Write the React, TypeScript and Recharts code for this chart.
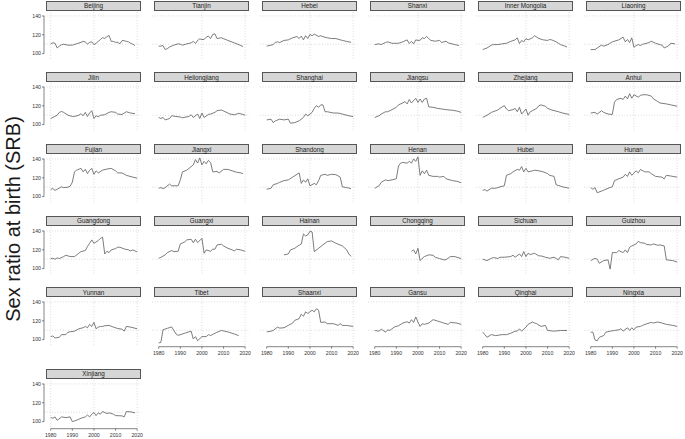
import { LineChart, Line, XAxis, YAxis, CartesianGrid, ReferenceLine } from 'recharts';

const provinces = [
  'Beijing', 'Tianjin', 'Hebei', 'Shanxi', 'Inner Mongolia', 'Liaoning',
  'Jilin', 'Heilongjiang', 'Shanghai', 'Jiangsu', 'Zhejiang', 'Anhui',
  'Fujian', 'Jiangxi', 'Shandong', 'Henan', 'Hubei', 'Hunan',
  'Guangdong', 'Guangxi', 'Hainan', 'Chongqing', 'Sichuan', 'Guizhou',
  'Yunnan', 'Tibet', 'Shaanxi', 'Gansu', 'Qinghai', 'Ningxia',
  'Xinjiang',
];

const yearTicks = [1980, 1990, 2000, 2010, 2020];
const srbTicks = [100, 110, 120, 130, 140];
const gridYears = [1980, 1985, 1990, 1995, 2000, 2005, 2010, 2015, 2020];
const gridSrb = [100, 110, 120, 130, 140];

// [year, SRB]
const beijing = [[1980,110.4],[1981,111.5],[1982,111],[1983,106],[1984,108],[1985,109.5],[1986,110],[1988,109],[1990,109],[1992,110.5],[1994,112],[1995,113],[1996,112.5],[1997,110],[1998,112],[1999,112.5],[2000,109.6],[2001,111],[2002,113],[2003,115],[2004,117],[2005,116],[2006,118],[2007,119.2],[2008,113],[2009,113],[2010,112],[2011,112],[2012,110.5],[2013,113.8],[2014,113.8],[2015,113],[2016,112.5],[2017,111],[2018,110],[2019,108.6]];
const tianjin = [[1980,107.9],[1981,108],[1982,108.6],[1983,104.3],[1984,105.3],[1985,107],[1986,108],[1987,109],[1989,110.4],[1990,110],[1991,109],[1993,110.4],[1995,111.4],[1996,113],[1997,110.7],[1998,114],[1999,115.7],[2000,115],[2001,115],[2002,117.5],[2003,118.6],[2004,116],[2005,120.4],[2006,121],[2007,116],[2008,116.5],[2009,116.8],[2012,114],[2015,111.4],[2018,108.6],[2019,107.5]];
const hebei = [[1980,108],[1981,108.5],[1982,109],[1983,109.6],[1984,112],[1985,112.5],[1986,111.8],[1988,114],[1990,114.6],[1992,116.8],[1994,118.2],[1995,116],[1996,118.6],[1997,114.6],[1998,119],[1999,116],[2000,120.4],[2001,119],[2002,120.7],[2004,118.2],[2005,119],[2006,118],[2008,116.8],[2010,116],[2012,116],[2015,114],[2017,113],[2019,112]];
const shanxi = [[1980,109.6],[1982,110.4],[1983,109.6],[1985,111.8],[1986,112.5],[1988,111],[1991,111],[1993,112.5],[1995,114.6],[1996,110.7],[1997,113],[1998,110.4],[1999,114.6],[2000,114],[2001,114.2],[2002,116.8],[2003,116],[2004,118.2],[2005,116],[2006,114],[2008,113.2],[2010,114],[2011,111.8],[2013,113.2],[2014,111.4],[2017,109.6],[2019,108.6]];
const innerMongolia = [[1980,104.3],[1982,106],[1984,109],[1985,109.6],[1987,109.6],[1989,110.4],[1991,111],[1993,113],[1995,114.6],[1996,116.8],[1997,110.7],[1998,114],[1999,112.5],[2000,116],[2001,114.6],[2003,116.8],[2004,119],[2005,117.5],[2006,116],[2008,114.6],[2010,114],[2011,115],[2012,114.5],[2014,112.5],[2016,109.6],[2018,108],[2019,107]];
const liaoning = [[1980,104.3],[1982,104.3],[1983,106],[1985,109],[1986,108],[1988,109.6],[1990,112.5],[1993,114.6],[1995,117.5],[1996,112.5],[1997,115],[1998,111.8],[1999,116.8],[2000,106.8],[2001,108.5],[2002,109.6],[2003,108.6],[2004,110],[2005,110.4],[2007,111.8],[2008,113.2],[2010,111],[2012,109.5],[2013,109],[2014,106],[2016,108.2],[2017,111],[2019,110.4]];
const jilin = [[1980,106.5],[1981,107.6],[1983,110],[1984,113],[1985,114],[1986,113],[1988,110],[1990,108.7],[1991,108.7],[1993,110],[1994,111.6],[1995,109.4],[1996,113],[1997,108.7],[1998,112.3],[1999,114.8],[2000,106.5],[2001,109.4],[2002,108.4],[2003,110],[2005,110.5],[2007,113],[2008,113.7],[2010,113],[2011,111.2],[2013,110.8],[2014,112.3],[2015,113.7],[2017,112.3],[2019,111.6]];
const heilongjiang = [[1980,107.6],[1981,106.5],[1982,107.6],[1983,105],[1985,106.5],[1986,109.4],[1988,108.7],[1990,108],[1991,107.3],[1994,108.7],[1995,110.5],[1996,107.6],[1998,111.2],[1999,106.5],[2000,112.3],[2001,107.6],[2003,110.8],[2004,111.2],[2006,113],[2007,114.8],[2009,115.5],[2010,114.5],[2013,111.2],[2015,110.5],[2017,112],[2019,110.8],[2020,110]];
const shanghai = [[1980,105],[1982,105.8],[1983,102.2],[1984,104],[1986,105.8],[1988,105],[1990,105.8],[1991,101.5],[1993,102.2],[1995,104],[1997,107.6],[1998,111.2],[1999,109.4],[2001,113],[2002,117.3],[2003,120.2],[2004,118.4],[2005,121],[2006,121],[2007,113.7],[2008,113.7],[2011,112.3],[2013,112.3],[2015,111.2],[2018,109.4],[2020,108.5]];
const jiangsu = [[1980,107.6],[1982,109.4],[1983,111.2],[1985,113.7],[1986,113.7],[1988,115.9],[1990,118.4],[1991,121],[1993,123],[1994,124.5],[1995,122],[1996,126.7],[1997,123],[1999,128],[2000,123.6],[2001,127.2],[2002,123.6],[2003,127.2],[2004,128],[2005,118.8],[2007,118.4],[2009,117.3],[2011,116.6],[2013,115.9],[2016,115.2],[2018,114.5],[2020,113]];
const zhejiang = [[1980,107.6],[1982,110],[1984,113],[1987,115.5],[1988,117.3],[1990,120.2],[1991,116.6],[1992,114.8],[1994,115.9],[1995,117.3],[1996,113.7],[1997,118.4],[1998,111.2],[2000,116.6],[2001,110],[2002,113.7],[2003,114.8],[2005,117.3],[2006,120.2],[2007,120.9],[2009,119.5],[2010,117.3],[2012,115.5],[2015,113.7],[2017,112.3],[2020,110.8]];
const anhui = [[1980,112.3],[1982,113],[1983,111.2],[1985,114.8],[1986,113],[1988,111.2],[1990,110.8],[1991,123.8],[1992,126.7],[1994,128],[1995,126.7],[1996,130.3],[1997,127.4],[1998,132.8],[1999,128],[2000,131.7],[2002,129.2],[2003,131],[2004,131.7],[2006,131.7],[2008,130.3],[2009,127.4],[2011,124.5],[2012,123],[2015,122],[2017,121],[2020,119.5]];
const fujian = [[1980,107.8],[1981,108.5],[1982,106.7],[1983,107.8],[1985,110.4],[1986,109.6],[1988,110],[1989,111.1],[1990,115.2],[1991,126.3],[1992,128.1],[1994,130],[1995,126.3],[1996,129],[1997,124.4],[1998,128],[1999,130],[2000,123.7],[2001,127.4],[2002,125.2],[2004,128.1],[2006,129.3],[2008,130],[2010,127.4],[2011,125.2],[2013,125.2],[2015,122.6],[2018,120.7],[2020,119.6]];
const jiangxi = [[1980,108.9],[1981,109.6],[1982,108.5],[1983,109.6],[1985,113.3],[1986,111.5],[1989,111.5],[1990,117.8],[1991,126.3],[1993,128.1],[1994,130],[1996,133.7],[1997,139.3],[1998,135.6],[1999,141.1],[2000,133.7],[2001,137.4],[2002,134.8],[2003,138.5],[2004,136.3],[2005,126.3],[2007,126.7],[2008,125.2],[2010,128.9],[2012,128.9],[2014,127.4],[2016,125.9],[2018,125.2],[2019,124.4]];
const shandong = [[1980,107.8],[1982,108.9],[1983,112.6],[1985,114],[1986,115.2],[1988,117],[1990,117.8],[1992,120.7],[1994,123.7],[1995,125.2],[1996,114],[1997,117.8],[1998,115.2],[1999,118.9],[2000,111.5],[2002,114],[2003,112.6],[2004,117],[2005,122.6],[2007,123.7],[2008,122.6],[2010,123.7],[2012,123.3],[2014,120.7],[2015,110.4],[2017,109.6],[2019,108.5]];
const henan = [[1980,108.9],[1982,111.5],[1983,115.2],[1985,117.8],[1986,117],[1988,117.8],[1990,118.9],[1991,132.6],[1992,135.6],[1993,136.3],[1995,135.6],[1996,137.4],[1997,135.6],[1998,140],[1999,137.4],[2000,142.2],[2001,122.6],[2002,127.4],[2003,124.4],[2004,128.1],[2005,122.6],[2007,121.5],[2009,121.5],[2010,120.7],[2012,121.5],[2013,118.9],[2016,117],[2018,116.3],[2020,114.8]];
const hubei = [[1980,106.7],[1981,107.4],[1982,105.9],[1984,108.9],[1986,108.9],[1988,110.4],[1990,111.5],[1991,122.6],[1993,124.4],[1994,126.3],[1996,128.9],[1997,128.1],[1998,131.9],[1999,126.3],[2000,130],[2001,126.3],[2003,127.4],[2004,128.1],[2006,127.4],[2008,126.3],[2010,124.4],[2011,122.6],[2013,121.5],[2014,112.6],[2017,110.4],[2020,108.9]];
const hunan = [[1980,109.6],[1981,107.8],[1982,109.6],[1983,104.1],[1985,105.9],[1986,106.7],[1988,108.9],[1990,110.4],[1991,117],[1993,118.9],[1995,120.7],[1996,123.7],[1997,121.5],[1998,126.3],[1999,122.6],[2001,127.4],[2002,125.2],[2003,128.9],[2005,126.3],[2007,126.3],[2008,124.4],[2010,121.5],[2013,120.7],[2014,118.9],[2015,122.6],[2017,121.9],[2020,120.7]];
const guangdong = [[1980,110.7],[1981,111],[1982,110],[1983,111.4],[1984,110.7],[1986,112.8],[1987,114.2],[1989,112.8],[1991,112.8],[1993,116.3],[1994,118.1],[1996,119.2],[1997,123.4],[1998,126.9],[1999,130.5],[2000,126.9],[2002,129.8],[2003,132.2],[2004,133.3],[2005,115.6],[2006,118.4],[2007,117],[2008,119.9],[2010,121.3],[2011,122.7],[2012,122.7],[2014,120.9],[2016,119.9],[2017,118.8],[2018,119.9],[2020,117.7]];
const guangxi = [[1980,111],[1981,112],[1983,114.6],[1984,117],[1986,119.2],[1987,118.1],[1989,118.4],[1990,126.2],[1992,128.3],[1993,130.5],[1995,131.2],[1996,127.6],[1997,131.2],[1998,127.6],[2000,132.2],[2001,116.3],[2002,119.9],[2004,118.4],[2005,120.6],[2006,120.6],[2007,125.2],[2009,125.9],[2010,124.1],[2012,121.6],[2014,119.9],[2015,118.8],[2016,120.6],[2018,119.9],[2020,118.4]];
const hainan = [[1988,114.6],[1990,115.6],[1991,119.9],[1993,121.6],[1994,123.4],[1996,126.2],[1997,136.8],[1998,134.7],[1999,135.8],[2000,139.6],[2001,139],[2002,118.1],[2004,121.6],[2006,125.2],[2008,128.7],[2010,129.4],[2012,126.9],[2015,124.1],[2017,119.9],[2018,115.6],[2019,113]];
const chongqing = [[1997,118.4],[1998,119.9],[1999,115.6],[2000,121.6],[2001,108.5],[2002,111],[2003,112.8],[2005,114.6],[2007,114.2],[2008,112.1],[2010,110.7],[2012,109.3],[2013,109.5],[2015,112.8],[2017,112.8],[2020,110.7]];
const sichuan = [[1980,110],[1982,108.5],[1984,111],[1985,111.8],[1987,110.7],[1988,112.1],[1990,112.1],[1993,112.8],[1994,114.2],[1995,112.1],[1997,115.6],[1998,112.8],[1999,118.1],[2000,112.8],[2001,116.3],[2002,114.9],[2004,116.3],[2006,113.5],[2007,113.5],[2009,112.1],[2011,111],[2013,112.1],[2015,109.3],[2016,112.8],[2018,112.1],[2020,111]];
const guizhou = [[1980,108.5],[1982,111],[1983,110],[1984,105.7],[1986,108.5],[1988,109.3],[1989,99.5],[1990,117],[1992,117],[1993,119.2],[1995,117],[1996,119.9],[1997,117],[1998,122.7],[1999,124.1],[2001,126.2],[2002,129],[2003,127.6],[2005,126.9],[2006,125.5],[2008,125.2],[2009,126.2],[2011,124.8],[2012,125.2],[2014,124.1],[2015,109.3],[2018,108.5],[2020,107.1]];
const yunnan = [[1980,103.2],[1981,103.9],[1982,101.7],[1984,102.5],[1985,105.3],[1987,105.3],[1988,107.9],[1991,109],[1993,111.5],[1995,112.6],[1996,114],[1997,112.6],[1998,116.2],[1999,114],[2000,118.3],[2001,111.5],[2002,113.3],[2003,114],[2004,114],[2005,114.7],[2007,115.1],[2009,113.3],[2011,111.8],[2013,111.1],[2014,109],[2015,114],[2017,113.3],[2020,111.5]];
const tibet = [[1980,96.5],[1981,97],[1982,110.5],[1984,112],[1986,113.5],[1988,106],[1989,104.5],[1992,106.8],[1995,109],[1996,100.7],[1997,103.2],[1998,98.8],[2000,103.2],[2002,103.2],[2003,105.3],[2004,104.3],[2007,107.9],[2009,109.7],[2012,108.2],[2015,106],[2017,104.3]];
const shaanxi = [[1980,108.2],[1982,109],[1983,109.7],[1985,113.3],[1986,112.2],[1988,112.6],[1990,115.1],[1992,117.6],[1993,120.5],[1995,122.3],[1996,127],[1997,124.8],[1998,129.5],[1999,127.7],[2001,131.3],[2002,129.5],[2003,132.8],[2004,131.3],[2005,118.3],[2007,118.7],[2008,116.9],[2011,116.9],[2013,115.1],[2014,116.9],[2015,115.1],[2017,115],[2020,114]];
const gansu = [[1980,109.7],[1982,109],[1983,111.1],[1985,107.9],[1986,110.4],[1987,109.7],[1989,113.3],[1991,114.7],[1993,117.6],[1995,119],[1996,117.6],[1997,121.2],[1998,118.3],[1999,124.1],[2000,118.7],[2001,114],[2002,116.9],[2003,116.2],[2005,117.6],[2007,121.2],[2009,119.8],[2011,118.3],[2013,116.9],[2014,116.2],[2015,118.3],[2018,117.6],[2020,116.2]];
const qinghai = [[1980,107.9],[1981,105.3],[1982,102.5],[1984,105.3],[1986,104.3],[1989,105.3],[1991,105.3],[1993,106.8],[1995,109],[1996,109],[1997,111.5],[1998,109],[2000,113.3],[2001,116.2],[2003,118.7],[2004,117.6],[2005,116.9],[2007,114],[2009,115.1],[2010,109.7],[2013,109],[2016,109.7],[2019,109.7]];
const ningxia = [[1980,107.9],[1981,107.9],[1982,99.6],[1983,98.8],[1984,102.5],[1986,104.3],[1987,107.9],[1989,109],[1991,109.7],[1993,110.4],[1994,111.5],[1995,109],[1997,112.6],[1998,109.7],[1999,112.6],[2000,110.4],[2001,113.3],[2003,114],[2004,115.1],[2006,116.9],[2008,118.3],[2009,117.6],[2011,118.7],[2013,117.6],[2015,116.2],[2018,115.1],[2020,114]];
const xinjiang = [[1980,104.3],[1981,103.6],[1982,105],[1983,101.4],[1985,105],[1987,104.3],[1989,105],[1990,100],[1991,100.7],[1993,102.5],[1994,103.6],[1996,105],[1997,107.1],[1998,105],[1999,107.9],[2000,109.6],[2001,106.4],[2002,109.3],[2003,107.9],[2004,110.7],[2006,108.6],[2007,109.3],[2009,107.9],[2010,106.4],[2013,106.1],[2014,105],[2015,110.7],[2017,110.4],[2019,109.3]];

const series = [
  beijing, tianjin, hebei, shanxi, innerMongolia, liaoning,
  jilin, heilongjiang, shanghai, jiangsu, zhejiang, anhui,
  fujian, jiangxi, shandong, henan, hubei, hunan,
  guangdong, guangxi, hainan, chongqing, sichuan, guizhou,
  yunnan, tibet, shaanxi, gansu, qinghai, ningxia,
  xinjiang,
];

const FONT = '"Liberation Sans", Arial, Helvetica, sans-serif';
const COLS = 6;
const COL_X = [43.5, 151.5, 259.5, 367.5, 475.5, 583.5]; // plot left (axis line)
const ROW_TOP = [0.5, 72.3, 144, 215.5, 287.2, 368.6]; // strip top
const STRIP_OFF = 2.5;
const STRIP_W = 95;
const STRIP_H = 10;
const PLOT_W = 97.5;
const PLOT_H = 48.7;
const Y_AXIS_W = 14;
const X_AXIS_H = 12;
const RIGHT_PAD = 8;
const X_DOMAIN = [1976.9, 2022];
const Y_DOMAIN = [92.5, 144.2];

function Panel({ name, points, index }: { name: string; points: number[][]; index: number }) {
  const col = index % COLS;
  const row = Math.floor(index / COLS);
  const showY = col === 0;
  const showX = index + COLS >= provinces.length;
  const data = points.map(([year, srb]) => ({ year, srb }));
  const left = COL_X[col];
  const top = ROW_TOP[row];
  const yW = showY ? Y_AXIS_W : 0;
  const xH = showX ? X_AXIS_H : 0;

  return (
    <>
      <div
        style={{
          position: 'absolute', left: left + STRIP_OFF, top, width: STRIP_W, height: STRIP_H,
          boxSizing: 'border-box', background: '#d6d6d6', border: '0.7px solid #555',
          fontSize: 6.3, fontFamily: FONT, color: '#1a1a1a',
          display: 'flex', alignItems: 'center', justifyContent: 'center',
        }}
      >
        {name}
      </div>
      <div style={{ position: 'absolute', left: left - yW, top: top + STRIP_H + 1 }}>
        <LineChart
          width={PLOT_W + yW + RIGHT_PAD}
          height={PLOT_H + xH}
          data={data}
          margin={{ top: 0, right: RIGHT_PAD, bottom: 0, left: 0 }}
        >
          <CartesianGrid
            stroke="#b8b8b8"
            strokeWidth={0.7}
            strokeDasharray="0.7 2"
            horizontalValues={gridSrb}
            verticalValues={gridYears}
          />
          <XAxis
            type="number"
            dataKey="year"
            domain={X_DOMAIN}
            ticks={yearTicks}
            allowDataOverflow
            hide={!showX}
            height={X_AXIS_H}
            axisLine={false}
            tickSize={2}
            tickMargin={3}
            tickLine={{ stroke: '#333', strokeWidth: 0.6 }}
            tick={{ fontSize: 5.2, fill: '#333', fontFamily: FONT }}
          />
          <YAxis
            type="number"
            domain={Y_DOMAIN}
            ticks={srbTicks}
            allowDataOverflow
            hide={!showY}
            width={Y_AXIS_W}
            axisLine={false}
            tickSize={2}
            tickMargin={1}
            tickLine={{ stroke: '#333', strokeWidth: 0.6 }}
            tick={{ fontSize: 5.2, fill: '#333', fontFamily: FONT }}
          />
          {showY && (
            <ReferenceLine
              segment={[{ x: X_DOMAIN[0], y: srbTicks[0] }, { x: X_DOMAIN[0], y: srbTicks[srbTicks.length - 1] }]}
              stroke="#333"
              strokeWidth={0.6}
            />
          )}
          {showX && (
            <ReferenceLine
              segment={[{ x: yearTicks[0], y: Y_DOMAIN[0] }, { x: yearTicks[yearTicks.length - 1], y: Y_DOMAIN[0] }]}
              stroke="#333"
              strokeWidth={0.6}
            />
          )}
          <Line
            type="linear"
            dataKey="srb"
            stroke="#666"
            strokeWidth={0.85}
            dot={false}
            isAnimationActive={false}
          />
        </LineChart>
      </div>
    </>
  );
}

export default function App() {
  return (
    <div style={{ position: 'absolute', left: 0, top: 0, width: 685, height: 439, background: '#fff', overflow: 'hidden' }}>
      <div
        style={{
          position: 'absolute', left: 13, top: 219, transform: 'translate(-50%, -50%) rotate(-90deg)',
          whiteSpace: 'nowrap', fontSize: 20, fontFamily: FONT, color: '#1a1a1a',
        }}
      >
        Sex ratio at birth (SRB)
      </div>
      {provinces.map((name, i) => (
        <Panel key={name} name={name} points={series[i]} index={i} />
      ))}
    </div>
  );
}
